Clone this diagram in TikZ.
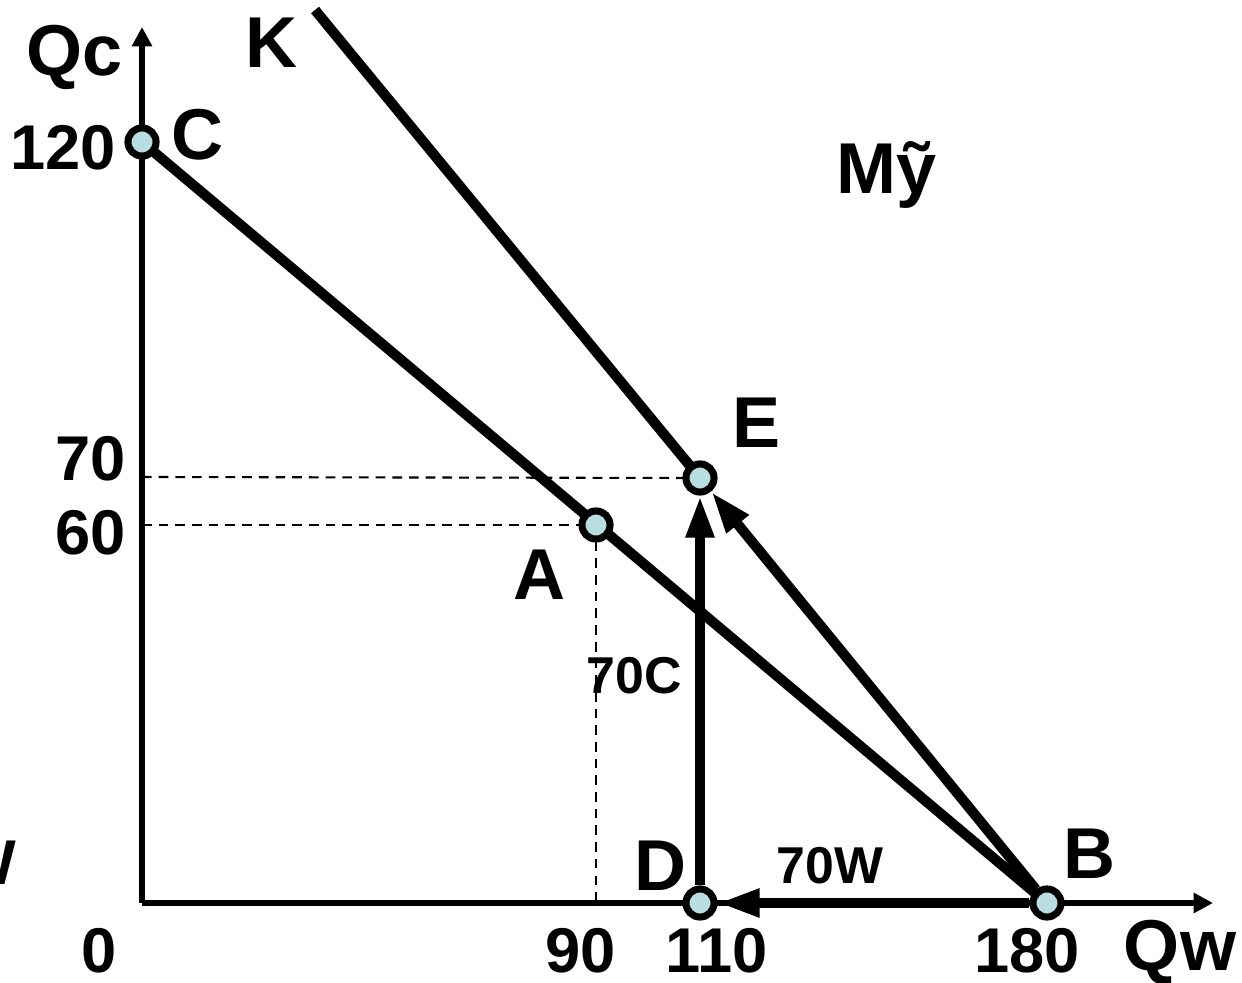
\documentclass[tikz,border=0pt]{standalone}
\usepackage{fontspec}
\setmainfont{Liberation Sans}
\usetikzlibrary{arrows.meta,backgrounds}
\definecolor{ptfill}{RGB}{185,222,226}
\begin{document}
\begin{tikzpicture}[x=0.02cm,y=-0.02cm,
  pt/.style={circle,draw=black,line width=4pt,fill=ptfill,minimum size=16pt,inner sep=0pt},
  big/.style={font=\fontsize{41}{41}\selectfont\bfseries,inner sep=0pt,anchor=base},
  num/.style={font=\fontsize{36}{36}\selectfont\bfseries,inner sep=0pt,anchor=base},
  smalllbl/.style={font=\fontsize{29.5}{29.5}\selectfont\bfseries,inner sep=0pt,anchor=base},
  heavy/.style={line width=5.8pt},
  axisline/.style={line width=3.2pt,-{Triangle[length=11pt,width=11pt]}},
  guide/.style={line width=1.2pt,dash pattern=on 5.5pt off 4pt},
  arr/.style={line width=5.8pt,-{Triangle[length=24pt,width=15pt]}}
]
\useasboundingbox (0,0) rectangle (1242,983);
% points
\coordinate (O) at (142,903);
\coordinate (xend) at (1213,903);
\coordinate (yend) at (142,27);
\coordinate (Ktop) at (315,10);
\coordinate (y70) at (142,477);
\coordinate (y60) at (142,525);
\coordinate (x90) at (596,903);
\node[pt] (C) at (142,142) {};
\node[pt] (A) at (596,525) {};
\node[pt] (E) at (700,478) {};
\node[pt] (D) at (700,903) {};
\node[pt] (B) at (1047,903) {};
\begin{scope}[on background layer]
  \draw[axisline] (O) -- (xend);
  \draw[axisline] (O) -- (yend);
  \draw[guide] (y70) -- (E.center);
  \draw[guide] (y60) -- (A.center);
  \draw[guide] (A.center) -- (x90);
  \draw[heavy] (C.center) -- (B.center);
  \draw[heavy] (Ktop) -- (E.center);
\end{scope}
\draw[arr] (B) -- (D);
\draw[arr] (D) -- (E);
\draw[arr] (B) -- (E);
% labels
\node[big] (lQc) at (75,76) {Qc};
\node[big] (lK) at (272,68) {K};
\node[num,anchor=base east] (l120) at (116,170) {120};
\node[big] (lC) at (198,160) {C};
\node[big] (lMy) at (887,194) {Mỹ};
\node[big] (lE) at (757,448) {E};
\node[num,anchor=base east] (l70) at (126,480) {70};
\node[num,anchor=base east] (l60) at (126,555) {60};
\node[big] (lA) at (540,600) {A};
\node[smalllbl] (l70C) at (634,693) {70C};
\node[big] (lD) at (661,890) {D};
\node[smalllbl] (l70W) at (830,883) {70W};
\node[big] (lB) at (1090,878) {B};
\node[num] (l0) at (99,972) {0};
\node[num] (l90) at (581,972) {90};
\node[num] (l110) at (717,972) {110};
\node[num] (l180) at (1027,972) {180};
\node[big] (lQw) at (1180,970) {Qw};
\node[num,anchor=base east] (lW) at (17,884) {W};
\end{tikzpicture}
\end{document}
